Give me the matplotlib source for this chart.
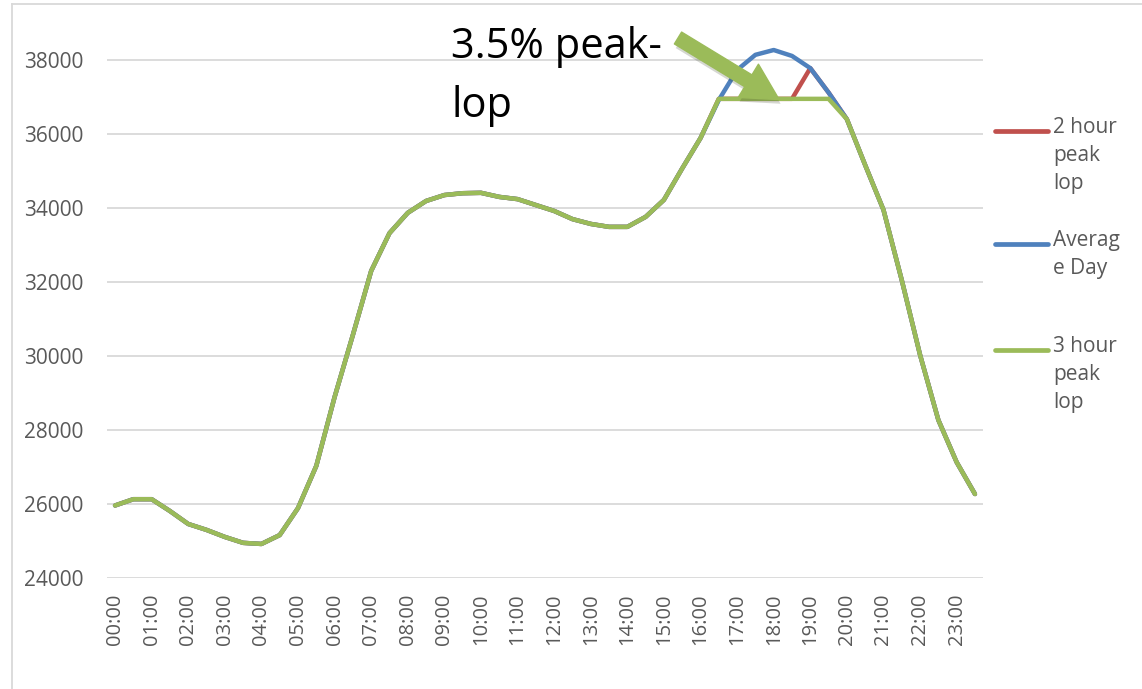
import matplotlib
matplotlib.use("Agg")
import matplotlib.pyplot as plt
from matplotlib.lines import Line2D
import matplotlib.patheffects as pe

times = ["%02d:%02d" % (h, m) for h in range(24) for m in (0, 30)]
hour_labels = ["%02d:00" % h for h in range(24)]

average_day = [25960, 26130, 26130, 25810, 25460, 25300, 25110, 24950, 24920, 25160,
               25890, 27030, 28890, 30570, 32300, 33320, 33870, 34190, 34350, 34400,
               34410, 34300, 34240, 34080, 33920, 33700, 33570, 33490, 33490, 33760,
               34220, 35070, 35890, 36920, 37730, 38140, 38270, 38110, 37780, 37120,
               36400, 35160, 33950, 32050, 30030, 28270, 27130, 26270]
two_hour_lop = average_day[:33] + [36950] * 5 + average_day[38:]
three_hour_lop = average_day[:33] + [36950] * 7 + average_day[40:]

series_labels = ["2 hour\npeak\nlop", "Averag\ne Day", "3 hour\npeak\nlop"]
colors = ["#c0504d", "#4f81bd", "#9bbb59"]

W, H = 1142, 689
fig = plt.figure(figsize=(W / 100, H / 100), dpi=100)
ax = fig.add_axes([107 / W, 1 - 578 / H, (983 - 107) / W, (578 - 23) / H])

x = list(range(len(times)))
for data, c in zip([two_hour_lop, average_day, three_hour_lop], colors):
    ax.plot(x, data, color=c, lw=3.2, solid_joinstyle="round", solid_capstyle="round")

ax.set_xlim(-0.44, len(times) - 1 + 0.44)
ax.set_ylim(24000, 39000)
ax.set_yticks(range(24000, 38001, 2000))
ax.set_xticks(range(0, len(times), 2))
ax.set_xticklabels(hour_labels, rotation=90)
for s in ax.spines.values():
    s.set_visible(False)
ax.grid(axis="y", color="#d9d9d9", lw=1.3)
ax.set_axisbelow(True)
ax.tick_params(axis="y", length=0, pad=17, labelsize=15, labelcolor="#595959")
ax.tick_params(axis="x", length=0, pad=11, labelsize=14.5, labelcolor="#595959")
for lab in ax.get_xticklabels() + ax.get_yticklabels():
    lab.set_fontfamily("Open Sans")

# annotation
fig.text(451 / W, 1 - 58 / H, "3.5% peak-", fontsize=30, family="Open Sans",
         va="baseline", ha="left", color="black")
fig.text(451 / W, 1 - 117 / H, "lop", fontsize=30, family="Open Sans",
         va="baseline", ha="left", color="black")
ax.annotate("", xy=(36.3, 36930), xycoords="data", xytext=(678, H - 38),
            textcoords="figure pixels",
            arrowprops=dict(arrowstyle="simple,head_length=1.3,head_width=1.4,tail_width=0.5",
                            color="#9bbb59", shrinkA=0, shrinkB=0, mutation_scale=20,
                            path_effects=[pe.SimplePatchShadow(offset=(1, -3), alpha=0.2),
                                          pe.Normal()]))

# legend
leg_y = [131, 244, 350]
for lab, c, yy in zip(series_labels, colors, leg_y):
    fig.add_artist(Line2D([995 / W, 1048 / W], [1 - yy / H] * 2, color=c, lw=3.4,
                          solid_capstyle="round", transform=fig.transFigure))
    fig.text(1053 / W, 1 - (yy - 14) / H, lab, fontsize=15, family="Open Sans",
             color="#595959", va="top", ha="left", linespacing=1.45)

# outer frame
fig.add_artist(Line2D([12 / W, 1], [1 - 4 / H] * 2, color="#d9d9d9", lw=1.3,
                      transform=fig.transFigure))
fig.add_artist(Line2D([12 / W] * 2, [0, 1 - 4 / H], color="#d9d9d9", lw=1.3,
                      transform=fig.transFigure))

fig.savefig("out.png", dpi=100, facecolor="white")
